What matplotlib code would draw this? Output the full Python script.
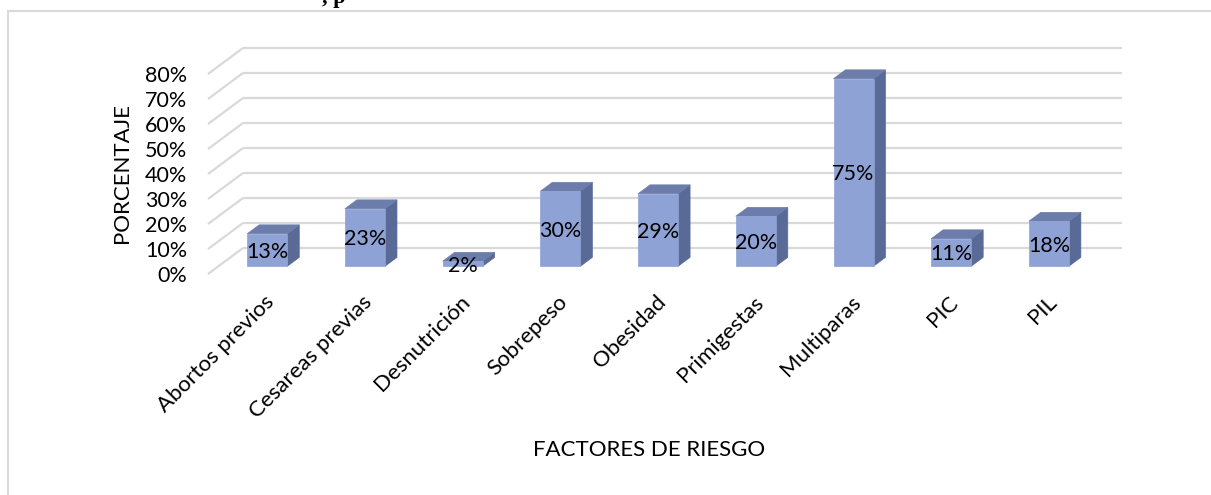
import matplotlib
matplotlib.use("Agg")
import matplotlib.pyplot as plt
from matplotlib.patches import Polygon, Rectangle

categories = ["Abortos previos", "Cesareas previas", "Desnutrición", "Sobrepeso",
              "Obesidad", "Primigestas", "Multiparas", "PIC", "PIL"]
values = [13, 23, 2, 30, 29, 20, 75, 11, 18]
y_ticks = [0, 10, 20, 30, 40, 50, 60, 70, 80]
y_tick_labels = [f"{t}%" for t in y_ticks]
x_title = "FACTORES DE RIESGO"
y_title = "PORCENTAJE"

FONT = ["Lato", "DejaVu Sans"]
plt.rcParams['font.family'] = FONT

W, H = 1211, 495
fig = plt.figure(figsize=(W / 100, H / 100), dpi=100)
ax = fig.add_axes([0, 0, 1, 1])
ax.set_xlim(-2.987, 9.408)
ax.set_ylim(-98.8, 99.2)
ax.axis('off')

# oblique projection: depth 0 = back wall, 1 = front
DX, DY = -0.358, -10.4
def P(x, y, d):
    return (x + DX * d, y + DY * d)

n = len(categories)
grid_c = "#d9d9d9"
for t, lab in zip(y_ticks, y_tick_labels):
    a, b = P(-0.5, t, 0), P(n - 0.5, t, 0)
    ax.plot([a[0], b[0]], [a[1], b[1]], color=grid_c, lw=1.6, solid_capstyle='butt', zorder=1)
    c = P(-0.5, t, 1)
    ax.plot([c[0], a[0]], [c[1], a[1]], color=grid_c, lw=1.6, solid_capstyle='butt', zorder=1)
    ax.text(-1.073, c[1] - 0.8, lab, ha='right', va='center', fontsize=15.5, color='black')

front_c, top_c, side_c = "#8fa2d5", "#6d7dab", "#5a6a96"
hw = 0.205
df, db = 0.70, 0.36
for i, v in enumerate(values):
    xl, xr = i - hw, i + hw
    front = [P(xl, 0, df), P(xr, 0, df), P(xr, v, df), P(xl, v, df)]
    top = [P(xl, v, df), P(xr, v, df), P(xr, v, db), P(xl, v, db)]
    side = [P(xr, 0, df), P(xr, 0, db), P(xr, v, db), P(xr, v, df)]
    for poly, col in ((side, side_c), (top, top_c), (front, front_c)):
        ax.add_patch(Polygon(poly, closed=True, facecolor=col, edgecolor=col, lw=0.5, zorder=3))
    cx, cy = P(i, v / 2, df)
    ax.text(cx, cy - 0.8, f"{v}%", ha='center', va='center', fontsize=15.5, color='black', zorder=5)
    ax.text(i - 0.28, -17.6, categories[i], rotation=45, rotation_mode='anchor',
            ha='right', va='top', fontsize=16, color='black')

ax.text(-1.738, 30, y_title, rotation=90, ha='center', va='center', fontsize=16)
ax.text(3.656, -80.8, x_title, ha='center', va='center', fontsize=16)

# outer chart border
fig.patches.append(Rectangle((8 / W, -0.05), 1.2, 1 - 11 / H + 0.05, transform=fig.transFigure,
                             fill=False, edgecolor="#d9d9d9", lw=1.5))
# clipped title fragment
fig.text(334 / W, 1 - 3 / H, ", p", ha='center', va='baseline', fontsize=16,
         fontweight='bold', family=['Liberation Serif', 'DejaVu Serif'])

fig.savefig("out.png", dpi=100)
